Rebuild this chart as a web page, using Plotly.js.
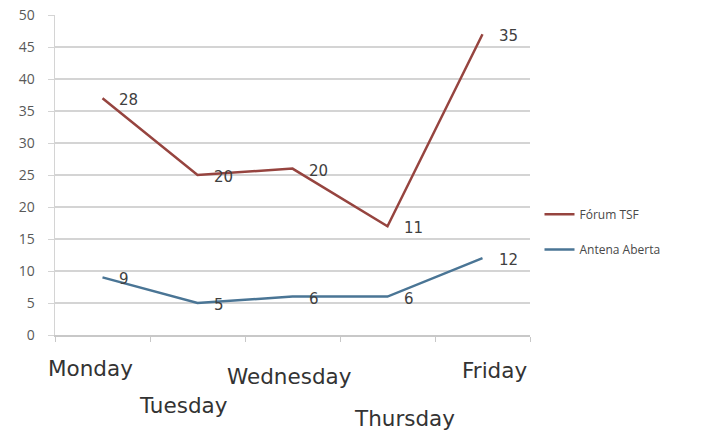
<!DOCTYPE html>
<html>
<head>
<meta charset="utf-8">
<script src="https://cdn.plot.ly/plotly-3.0.1.min.js"></script>
<style>html,body{margin:0;padding:0;background:#fff;}#chart{width:723px;height:434px;}</style>
</head>
<body>
<div id="chart"></div>
<script>
// Data
var days = ["Monday", "Tuesday", "Wednesday", "Thursday", "Friday"];
var forumValues = [37, 25, 26, 17, 47];
var forumLabels = ["28", "20", "20", "11", "35"];
var antenaValues = [9, 5, 6, 6, 12];
var antenaLabels = ["9", "5", "6", "6", "12"];
var seriesNames = ["Fórum TSF", "Antena Aberta"];

// Placement of the staggered category labels (pixels relative to category centre / axis)
var dayLabelDx = [-12, -14, -3, 17, 12];
var dayLabelDy = [-33, -70, -41, -83, -35];

var forumColor = "#96443F";
var antenaColor = "#4A7595";

var traces = [
  {x: days, y: forumValues, type: "scatter", mode: "lines", name: seriesNames[0],
   line: {color: forumColor, width: 2.5}, legend: "legend"},
  {x: days, y: antenaValues, type: "scatter", mode: "lines", name: seriesNames[1],
   line: {color: antenaColor, width: 2.5}, legend: "legend2"}
];

var annotations = [];
function addLabels(vals, labels) {
  for (var i = 0; i < days.length; i++) {
    annotations.push({x: days[i], y: vals[i], xref: "x", yref: "y", text: labels[i],
      showarrow: false, xanchor: "left", yanchor: "middle", xshift: 14, yshift: -2,
      font: {family: "DejaVu Sans", size: 15, color: "#404040"}});
  }
}
addLabels(forumValues, forumLabels);
addLabels(antenaValues, antenaLabels);
for (var i = 0; i < days.length; i++) {
  annotations.push({x: days[i], y: 0, xref: "x", yref: "paper", text: days[i],
    showarrow: false, xanchor: "center", yanchor: "middle",
    xshift: dayLabelDx[i], yshift: dayLabelDy[i],
    font: {family: "DejaVu Sans", size: 21.5, color: "#333333"}});
}

var layout = {
  width: 723, height: 434,
  margin: {l: 55, r: 193, t: 15, b: 99},
  paper_bgcolor: "#ffffff", plot_bgcolor: "#ffffff",
  showlegend: true,
  xaxis: {type: "category", range: [-0.5, 4.5], showgrid: false, showline: true,
    linecolor: "#c8c8c8", linewidth: 1.5, ticks: "outside", tickson: "boundaries",
    ticklen: 5, tickcolor: "#c8c8c8", showticklabels: false, zeroline: false, fixedrange: true},
  yaxis: {range: [0, 50], dtick: 5, tick0: 0, showgrid: true, gridcolor: "#d4d4d4", gridwidth: 1.5,
    showline: true, linecolor: "#d4d4d4", linewidth: 1.5, ticks: "outside", ticklen: 6,
    tickcolor: "#d4d4d4", zeroline: false, ticklabelstandoff: 10,
    tickfont: {family: "Open Sans", size: 14, color: "#595959"}},
  legend: {x: 1.02, y: 0.377, xanchor: "left", yanchor: "middle", bgcolor: "rgba(0,0,0,0)",
    font: {family: "Open Sans", size: 12, color: "#484848"}, itemwidth: 30},
  legend2: {x: 1.02, y: 0.267, xanchor: "left", yanchor: "middle", bgcolor: "rgba(0,0,0,0)",
    font: {family: "Open Sans", size: 12, color: "#484848"}, itemwidth: 30},
  annotations: annotations
};

Plotly.newPlot("chart", traces, layout, {displayModeBar: false, staticPlot: true});
</script>
</body>
</html>
